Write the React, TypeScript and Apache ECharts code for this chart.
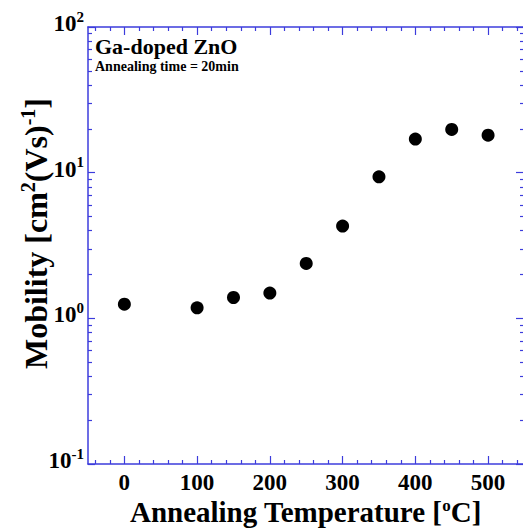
import React, { useEffect, useRef } from "react";
import * as echarts from "echarts";

const temperatures = [0, 100, 150, 200, 250, 300, 350, 400, 450, 500];
const mobility = [1.25, 1.18, 1.39, 1.49, 2.38, 4.3, 9.37, 17.0, 19.8, 18.1];
const xMajorTicks = [0, 100, 200, 300, 400, 500];
const xMinorTicks = [-40, -20, 20, 40, 60, 80, 120, 140, 160, 180, 220, 240, 260, 280, 320, 340, 360, 380, 420, 440, 460, 480, 520, 540];
const yMinorMultipliers = [2, 3, 4, 5, 6, 7, 8, 9];
const yDecadeExponents = [-1, 0, 1];

const AXIS_COLOR = "#3c3cdc";
const FONT = "'Liberation Serif', 'Times New Roman', serif";

export default function App() {
  const ref = useRef<HTMLDivElement>(null);
  useEffect(() => {
    document.body.style.margin = "0";
    if (!ref.current) return;
    const chart = echarts.init(ref.current, undefined, { renderer: "svg" });
    const yMinorLog: number[] = [];
    yDecadeExponents.forEach((e) => yMinorMultipliers.forEach((m) => yMinorLog.push(Math.log10(m * Math.pow(10, e)))));
    const lineStyle = { color: AXIS_COLOR, width: 1.5 };
    const tickStyle = { color: AXIS_COLOR, width: 1.2 };
    const gridPos = { left: 88, right: 0, top: 27, bottom: 66, containLabel: false, outerBoundsMode: "none" };
    const supRich = {
      b: { fontSize: 23, fontWeight: "bold", fontFamily: FONT, color: "#000", verticalAlign: "bottom", padding: [0, 0, 10, 0] },
      s: { fontSize: 15, fontWeight: "bold", fontFamily: FONT, color: "#000", verticalAlign: "bottom", padding: [0, 0, 21, 0] },
    };
    const xNameRich = {
      n: { fontSize: 29, lineHeight: 29, fontWeight: "bold", fontFamily: FONT, color: "#000", verticalAlign: "bottom" },
      s: { fontSize: 17, lineHeight: 17, fontWeight: "bold", fontFamily: FONT, color: "#000", verticalAlign: "bottom", padding: [0, 0, 12, 0] },
    };
    const yNameRich = {
      n: { fontSize: 32, fontWeight: "bold", fontFamily: FONT, color: "#000", verticalAlign: "bottom" },
      s: { fontSize: 20, fontWeight: "bold", fontFamily: FONT, color: "#000", verticalAlign: "bottom", padding: [0, 0, 14, 0] },
    };
    const noZero = { onZero: false };
    chart.setOption({
      animation: false,
      grid: [{ ...gridPos }, { ...gridPos }],
      xAxis: [
        {
          gridIndex: 0, type: "value", position: "bottom", min: -50, max: 548,
          axisLine: { show: true, ...noZero, lineStyle },
          axisTick: { show: true, inside: true, length: 8, customValues: xMajorTicks, lineStyle: tickStyle },
          axisLabel: { customValues: xMajorTicks, fontSize: 23, lineHeight: 23, fontWeight: "bold", fontFamily: FONT, color: "#000", margin: 7 },
          splitLine: { show: false },
          name: "{n|Annealing Temperature [}{s|o}{n|C]}",
          nameLocation: "middle", nameGap: 33, nameMoveOverlap: false,
          nameTextStyle: { rich: xNameRich },
        },
        {
          gridIndex: 0, type: "value", position: "top", min: -50, max: 548,
          axisLine: { show: true, ...noZero, lineStyle },
          axisTick: { show: true, inside: true, length: 8, customValues: xMajorTicks, lineStyle: tickStyle },
          axisLabel: { show: false },
          splitLine: { show: false },
        },
        {
          gridIndex: 1, type: "value", position: "bottom", min: -50, max: 548,
          axisLine: { show: false, ...noZero },
          axisTick: { show: true, inside: true, length: 4, customValues: xMinorTicks, lineStyle: tickStyle },
          axisLabel: { show: false },
          splitLine: { show: false },
        },
        {
          gridIndex: 1, type: "value", position: "top", min: -50, max: 548,
          axisLine: { show: false, ...noZero },
          axisTick: { show: true, inside: true, length: 4, customValues: xMinorTicks, lineStyle: tickStyle },
          axisLabel: { show: false },
          splitLine: { show: false },
        },
      ],
      yAxis: [
        {
          gridIndex: 0, type: "log", logBase: 10, position: "left", min: 0.1, max: 100, splitNumber: 3,
          axisLine: { show: true, ...noZero, lineStyle },
          axisTick: { show: true, inside: true, length: 7, lineStyle: tickStyle },
          axisLabel: {
            margin: 4,
            formatter: (v: number) => `{b|10}{s|${Math.round(Math.log10(v))}}`,
            rich: supRich,
          },
          splitLine: { show: false },
          minorTick: { show: false },
          name: "{n|Mobility [cm}{s|2}{n|(Vs)}{s|-1}{n|]}",
          nameLocation: "middle", nameRotate: 90, nameGap: 36, nameMoveOverlap: false,
          nameTextStyle: { rich: yNameRich, padding: [0, 0, 0, 24] },
        },
        {
          gridIndex: 0, type: "log", logBase: 10, position: "right", min: 0.1, max: 100, splitNumber: 3,
          axisLine: { show: false, ...noZero },
          axisTick: { show: true, inside: true, length: 7, lineStyle: tickStyle },
          axisLabel: { show: false },
          splitLine: { show: false },
        },
        {
          gridIndex: 1, type: "value", position: "left", min: -1, max: 2,
          axisLine: { show: false, ...noZero },
          axisTick: { show: true, inside: true, length: 4, customValues: yMinorLog, lineStyle: tickStyle },
          axisLabel: { show: false },
          splitLine: { show: false },
        },
        {
          gridIndex: 1, type: "value", position: "right", min: -1, max: 2,
          axisLine: { show: false, ...noZero },
          axisTick: { show: true, inside: true, length: 3, customValues: yMinorLog, lineStyle: tickStyle },
          axisLabel: { show: false },
          splitLine: { show: false },
        },
      ],
      series: [
        {
          type: "scatter",
          xAxisIndex: 0,
          yAxisIndex: 0,
          symbol: "circle",
          symbolSize: 13,
          itemStyle: { color: "#000", opacity: 1 },
          data: temperatures.map((t, i) => [t, mobility[i]]),
        },
      ],
      graphic: [
        { type: "text", left: 95, top: 35, style: { text: "Ga-doped ZnO", font: `bold 22px ${FONT}`, lineHeight: 20, fill: "#000" } },
        { type: "text", left: 95, top: 59, style: { text: "Annealing time = 20min", font: `bold 14px ${FONT}`, lineHeight: 12, fill: "#000" } },
      ],
    });
    return () => chart.dispose();
  }, []);
  return <div ref={ref} style={{ width: 523, height: 530 }} />;
}
